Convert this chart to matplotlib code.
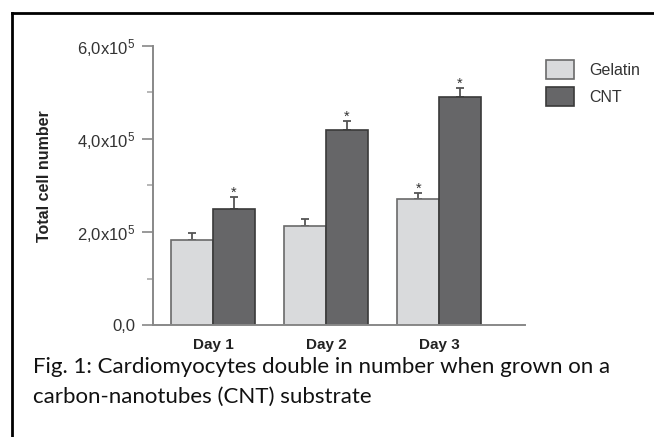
import matplotlib.pyplot as plt
import numpy as np

days = ["Day 1", "Day 2", "Day 3"]
gelatin = [1.83e5, 2.13e5, 2.70e5]
gelatin_err = [0.15e5, 0.15e5, 0.13e5]
cnt = [2.49e5, 4.20e5, 4.90e5]
cnt_err = [0.26e5, 0.19e5, 0.19e5]
gelatin_star = [False, False, True]
cnt_star = [True, True, True]
yticks = [0, 2e5, 4e5, 6e5]
ytick_labels = ["0,0", r"2,0x10$^{5}$", r"4,0x10$^{5}$", r"6,0x10$^{5}$"]
caption = ["Fig. 1: Cardiomyocytes double in number when grown on a",
           "carbon-nanotubes (CNT) substrate"]

plt.rcParams["font.family"] = ["Liberation Sans", "DejaVu Sans"]
plt.rcParams["mathtext.fontset"] = "custom"
plt.rcParams["mathtext.rm"] = "Liberation Sans"
plt.rcParams["mathtext.it"] = "Liberation Sans"

W, H = 654, 437
fig = plt.figure(figsize=(W / 100, H / 100), dpi=100)

# axes placed in pixel coords: x axis 153..525, y 0 at 325, 6e5 at 46
ax = fig.add_axes([153 / W, (H - 325) / H, (525 - 153) / W, (325 - 46) / H])

x = np.arange(len(days))
w = 0.37
light = "#d9dadc"
dark = "#666668"
ax.bar(x - w / 2, gelatin, w, color=light, edgecolor="#6a6a6a", linewidth=1.2,
       label="Gelatin", zorder=2)
ax.bar(x + w / 2, cnt, w, color=dark, edgecolor="#3a3a3a", linewidth=1.2,
       label="CNT", zorder=2)
ax.errorbar(x - w / 2, gelatin, yerr=[np.zeros(3), gelatin_err], fmt="none",
            ecolor="#555555", elinewidth=1.3, capsize=3, capthick=1.3, zorder=1)
ax.errorbar(x + w / 2, cnt, yerr=[np.zeros(3), cnt_err], fmt="none",
            ecolor="#555555", elinewidth=1.3, capsize=3, capthick=1.3, zorder=1)

for i in range(len(days)):
    if gelatin_star[i]:
        ax.text(x[i] - w / 2, gelatin[i] + gelatin_err[i] + 0.09e5, "*",
                ha="center", va="center", fontsize=10.5, color="#333333")
    if cnt_star[i]:
        ax.text(x[i] + w / 2, cnt[i] + cnt_err[i] + 0.09e5, "*",
                ha="center", va="center", fontsize=10.5, color="#333333")

ax.set_xlim(-0.53, 2.76)
ax.set_ylim(0, 6e5)
ax.set_yticks(yticks)
ax.set_yticklabels(ytick_labels, fontsize=12, color="#333333")
ax.set_yticks([1e5, 3e5, 5e5], minor=True)
ax.tick_params(axis="y", which="major", length=8, width=1.2, color="#888888", pad=5)
ax.tick_params(axis="y", which="minor", length=4, width=1.2, color="#aaaaaa")
ax.set_xticks(x)
ax.set_xticklabels(days, fontsize=11, fontweight="bold", color="#222222")
ax.tick_params(axis="x", length=0, pad=9)
for s in ["top", "right"]:
    ax.spines[s].set_visible(False)
ax.spines["left"].set_color("#888888")
ax.spines["bottom"].set_color("#888888")
ax.spines["left"].set_linewidth(1.4)
ax.spines["bottom"].set_linewidth(1.4)

fig.text(45 / W, 1 - 176 / H, "Total cell number", rotation=90, ha="center",
         va="center", fontsize=11.5, fontweight="bold", color="#222222")

# legend
ax.legend(loc="upper left", bbox_to_anchor=(532 / W, 1 - 46 / H),
          bbox_transform=fig.transFigure, frameon=False, fontsize=11.5,
          handlelength=1.7, handleheight=1.45, labelspacing=0.5,
          handletextpad=1.0, labelcolor="#333333")

# caption
fig.text(33 / W, 1 - 367 / H, caption[0], ha="left", va="center",
         fontsize=16, family=["Lato", "DejaVu Sans"], color="#111111")
fig.text(33 / W, 1 - 397 / H, caption[1], ha="left", va="center",
         fontsize=16, family=["Lato", "DejaVu Sans"], color="#111111")

# frame lines (left and top)
fig.add_artist(plt.Line2D([11.5 / W, 11.5 / W], [0, 1 - 13 / H],
                          transform=fig.transFigure, color="black", lw=2))
fig.add_artist(plt.Line2D([11.5 / W, 1], [1 - 13 / H, 1 - 13 / H],
                          transform=fig.transFigure, color="black", lw=2))

fig.savefig("out.png", dpi=100)
